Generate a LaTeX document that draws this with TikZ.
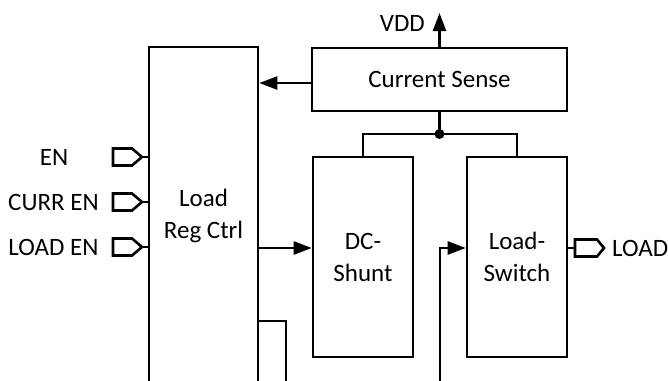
\documentclass[tikz,border=0pt]{standalone}
\usepackage{fontspec}
\setmainfont{Carlito}
\usetikzlibrary{arrows.meta,calc}
\begin{document}
\begin{tikzpicture}[x=0.5pt,y=-0.5pt,
  line width=1.2pt,
  font=\fontsize{12.5}{16}\selectfont,
  box/.style={draw,line width=1.3pt,inner sep=0pt,align=center},
  arr/.style={-{Triangle[length=9pt,width=6.5pt]}},
  lbl/.style={inner sep=0pt,align=center}]
\useasboundingbox (0,0) rectangle (668,380);
\clip (0,0) rectangle (668,380);
% blocks
\node[box,minimum width=54.5pt,minimum height=174pt] (reg) at (203.5,221) {};
\node[lbl] (regtxt) at (203.5,216) {Load\\Reg Ctrl};
\node[box,minimum width=127.5pt,minimum height=31.5pt] (cs) at (439.5,79.5) {Current Sense};
\node[box,minimum width=50pt,minimum height=100pt] (dc) at (363,257) {DC-\\Shunt};
\node[box,minimum width=50pt,minimum height=100pt] (ls) at (517,257) {Load-\\Switch};
\node[circle,fill,inner sep=0pt,minimum size=5pt] (dot) at (439.5,134) {};
% helper coordinates
\coordinate (yA) at (0,248);
\coordinate (yB) at (0,321);
\coordinate (vdd) at (439.5,13);
\coordinate (b1) at (286,381);
\coordinate (b2) at (440,381);
% labels
\node[lbl,anchor=east] (vddl) at (426,23) {VDD};
\node[lbl] (en) at (54,157) {EN};
\node[lbl] (curr) at (53.5,202) {CURR EN};
\node[lbl] (load) at (53.5,247) {LOAD EN};
\node[lbl,anchor=west] (loadout) at (611,248) {LOAD};
% connectors
\draw[arr] (cs.north) -- (vdd);
\draw[arr] (cs.west |- 0,83) -- (reg.east |- 0,83);
\draw (cs.south) -- (dot.center);
\draw (dot.center) -| (dc.north);
\draw (dot.center) -| (ls.north);
\draw[arr] (reg.east |- yA) -- (dc.west |- yA);
\draw[arr] (b2) |- (ls.west |- yA);
\draw (reg.east |- yB) -| (b1);
% input ports
\foreach \yy/\nm in {157/en,202/curr,247/load}{
  \draw[line width=1.3pt,line join=miter] (113,\yy-8.5) -- (132,\yy-8.5) -- (142,\yy) -- (132,\yy+8.5) -- (113,\yy+8.5) -- cycle;
  \coordinate (p\nm) at (142,\yy);
  \draw (p\nm) -- (reg.west |- p\nm);
}
% output port
\coordinate (pout) at (575,248);
\draw (ls.east |- pout) -- (pout);
\draw[line width=1.3pt,line join=miter] (575,239.5) -- (597,239.5) -- (604,248) -- (597,256.5) -- (575,256.5) -- cycle;
\end{tikzpicture}
\end{document}
